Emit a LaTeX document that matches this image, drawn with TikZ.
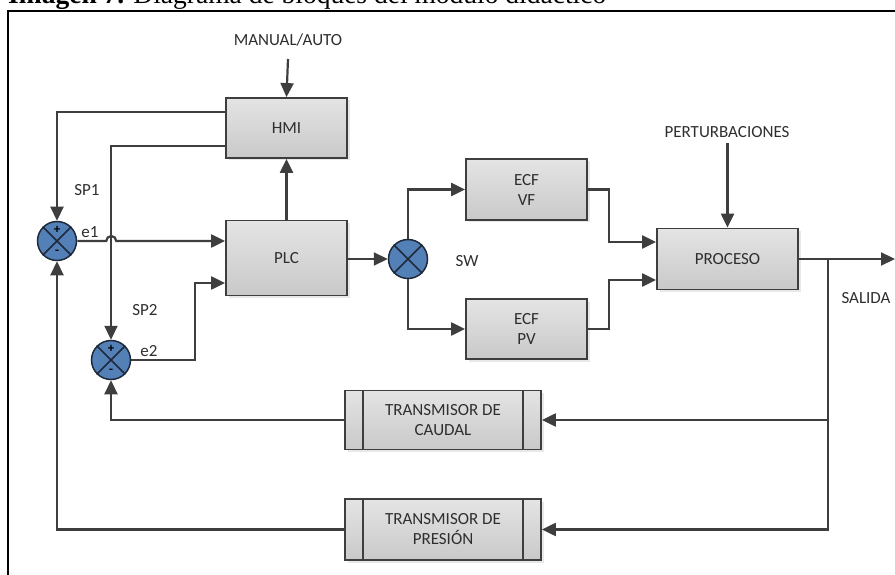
\documentclass[tikz,border=0pt]{standalone}
\usepackage{fontspec}
\setmainfont{Liberation Serif}
\newfontfamily\diagfont{Carlito}
\usetikzlibrary{arrows.meta,shadows}
\definecolor{wire}{HTML}{3E3E3E}
\definecolor{ink}{HTML}{2E2E2E}
\definecolor{sumblue}{HTML}{5480B8}
\definecolor{sumedge}{HTML}{1E2A3A}
\definecolor{boxtop}{HTML}{E4E4E4}
\definecolor{boxbot}{HTML}{C9C9C9}
\tikzset{
  blockbox/.style={draw=wire, line width=1.8pt, top color=boxtop, bottom color=boxbot,
    rectangle, inner sep=0pt, align=center, text=ink,
    drop shadow={opacity=0.18, shadow xshift=2.5pt, shadow yshift=-2.5pt}},
  sumnode/.style={circle, draw=sumedge, line width=1.5pt, fill=sumblue,
    minimum size=39pt, inner sep=0pt},
  wirearrow/.style={draw=wire, line width=2.2pt, -{Triangle[length=14pt,width=13pt]}},
  lbl/.style={text=ink, inner sep=0pt},
  sign/.style={text=black, inner sep=0pt, font=\diagfont\fontsize{13}{13}\selectfont\bfseries},
}
\begin{document}
\begin{tikzpicture}[x=1pt,y=-1pt, font=\diagfont\fontsize{17}{20}\selectfont]
\useasboundingbox (0,0) rectangle (895,575);
\clip (0,0) rectangle (895,575);

% caption and frame
\node[anchor=base west, inner sep=0pt, text=black, font=\rmfamily\fontsize{27.5}{30}\selectfont]
  (caption) at (8,4) {\textbf{Imagen 7.} Diagrama de bloques del módulo didáctico};
\draw[black, line width=1.8pt] (8,580) -- (8,11) -- (900,11);

% blocks
\node[blockbox, minimum width=121pt, minimum height=60pt] (hmi) at (286.5,128) {HMI};
\node[blockbox, minimum width=121pt, minimum height=75pt] (plc) at (286.5,258) {PLC};
\node[blockbox, minimum width=121pt, minimum height=61pt] (ecfvf) at (526.5,189.5) {ECF\\VF};
\node[blockbox, minimum width=121pt, minimum height=60pt] (ecfpv) at (526.5,329) {ECF\\PV};
\node[blockbox, minimum width=141pt, minimum height=61pt] (proc) at (727.5,259) {PROCESO};
\node[blockbox, minimum width=196pt, minimum height=59pt] (tcaudal) at (443,420) {TRANSMISOR DE\\CAUDAL};
\node[blockbox, minimum width=196pt, minimum height=61pt] (tpresion) at (443,529.5) {TRANSMISOR DE\\PRESIÓN};
\foreach \b in {tcaudal,tpresion}{
  \draw[wire, line width=1.5pt] ([xshift=19pt]\b.north west) -- ([xshift=19pt]\b.south west);
  \draw[wire, line width=1.5pt] ([xshift=-19pt]\b.north east) -- ([xshift=-19pt]\b.south east);
}

% summing junctions and switch
\node[sumnode] (s1) at (57,241) {};
\node[sumnode] (s2) at (111,360) {};
\node[sumnode] (sw) at (408,259) {};
\foreach \s in {s1,s2,sw}{
  \draw[sumedge, line width=1.5pt] (\s.north east) -- (\s.south west);
  \draw[sumedge, line width=1.5pt] (\s.north west) -- (\s.south east);
}
\foreach \s in {s1,s2}{
  \node[sign] (\s p) at ([yshift=11pt]\s.center) {+};
  \node[sign] (\s m) at ([yshift=-11pt]\s.center) {-};
}

% labels
\node[lbl] (manual) at (288,40) {MANUAL/AUTO};
\node[lbl] (pert) at (727,132) {PERTURBACIONES};
\node[lbl] (sp1) at (87,190) {SP1};
\node[lbl] (e1) at (90,232) {e1};
\node[lbl] (sp2) at (145,310) {SP2};
\node[lbl] (e2) at (149,351) {e2};
\node[lbl] (swl) at (467,261) {SW};
\node[lbl] (salida) at (866,298) {SALIDA};

\coordinate (manualin) at (288,59);
\coordinate (pertin) at (727.5,143);
\coordinate (e2knee) at (195,283);
\coordinate (outend) at (895,259);
\coordinate (tap) at (828,259);

% forward path
\draw[wirearrow] (manualin) -- (hmi.north);
\draw[wirearrow] (plc.north) -- (hmi.south);
\draw[wirearrow] ([yshift=16pt]hmi.west) -| (s1.north);
\draw[wirearrow] ([yshift=-18pt]hmi.west) -| (s2.north);
\draw[wirearrow] (s1.east) -- ++(29,0) arc[start angle=180, end angle=0, radius=5pt]
  -- ([yshift=17pt]plc.west);
\draw[wirearrow] (s2.east) -| (e2knee) -- (plc.west |- e2knee);
\draw[wirearrow] (plc.east |- sw) -- (sw.west);
\draw[wirearrow] (sw.north) |- (ecfvf.west);
\draw[wirearrow] (sw.south) |- (ecfpv.west);
\draw[wirearrow] (ecfvf.east) -- ++(21,0) |- ([yshift=17pt]proc.west);
\draw[wirearrow] (ecfpv.east) -- ++(21,0) |- ([yshift=-21pt]proc.west);
\draw[wirearrow] (pertin) -- (proc.north);
\draw[wirearrow] (proc.east) -- (outend);

% feedback paths
\draw[wirearrow] (tap) |- (tcaudal.east);
\draw[wirearrow] (tap) |- (tpresion.east);
\draw[wirearrow] (tcaudal.west) -| (s2.south);
\draw[wirearrow] (tpresion.west) -| (s1.south);
\end{tikzpicture}
\end{document}
